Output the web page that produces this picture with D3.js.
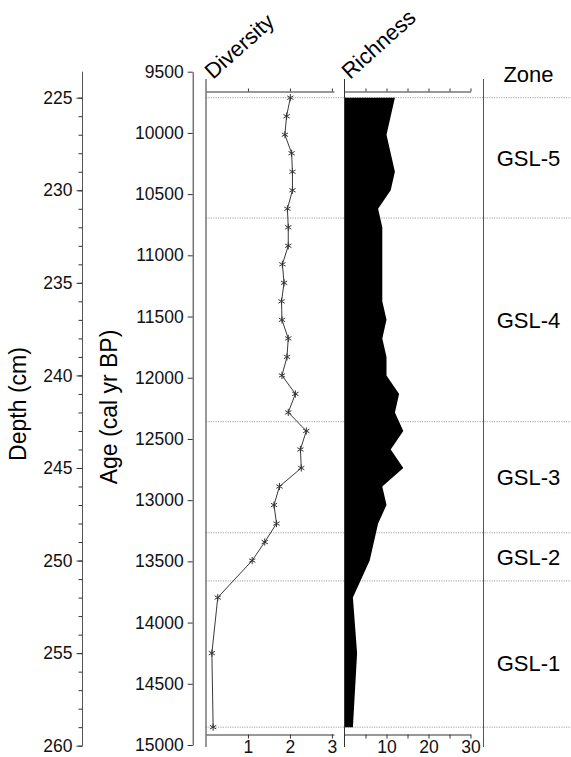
<!DOCTYPE html>
<html>
<head>
<meta charset="utf-8">
<script src="https://cdn.jsdelivr.net/npm/d3@7"></script>
<style>
  body { margin: 0; background: #fff; }
  svg { display: block; font-family: "Liberation Sans", Arial, sans-serif; }
  .axis path, .axis line { stroke: #333; }
  .axis text { font-family: "Liberation Sans", Arial, sans-serif; font-size: 17.5px; fill: #111; }
</style>
</head>
<body>
<svg></svg>
<script>
const width = 571;
const height = 757;
const svg = d3.select("svg")
    .attr("width", width)
    .attr("height", height);

// sample depths (cm)
const depths = [225, 226, 227, 228, 229, 230, 231, 232, 233, 234, 235, 236, 237, 238, 239,
                240, 241, 242, 243, 244, 245, 246, 247, 248, 249, 250, 252, 255, 259];
const diversity = [2.01, 1.92, 1.88, 2.04, 2.06, 2.06, 1.94, 1.96, 1.96, 1.82, 1.86, 1.80, 1.81, 1.96, 1.93,
                   1.81, 2.13, 1.96, 2.39, 2.25, 2.27, 1.75, 1.62, 1.68, 1.40, 1.10, 0.28, 0.14, 0.17];
const richness = [12, 11, 10, 11, 12, 11, 8, 9, 9, 9, 9, 9, 10, 9, 10,
                  10, 13, 12, 14, 11, 14, 9, 10, 8, 7, 6, 2, 3, 2];

const depthTicks = [225, 230, 235, 240, 245, 250, 255, 260];
const ageTicks = [9500, 10000, 10500, 11000, 11500, 12000, 12500, 13000, 13500, 14000, 14500, 15000];
const divTicks = [1, 2, 3];
const richTicks = [5, 10, 15, 20, 25, 30];

const zoneBounds = [225, 231.5, 242.5, 248.5, 251.1, 259];
const zoneNames = ["GSL-5", "GSL-4", "GSL-3", "GSL-2", "GSL-1"];

const samples = depths.map((d, i) => ({depth: d, div: diversity[i], rich: richness[i]}));

// scales
const yDepth = d3.scaleLinear().domain([225, 260]).range([97.7, 745.7]);
const yAge = d3.scaleLinear().domain([9500, 15000]).range([71.7, 745]);
const xDiv = d3.scaleLinear().domain([0, 3.05]).range([206, 334]);
const xRich = d3.scaleLinear().domain([0, 30]).range([344.5, 470.5]);

const panelTop = 79;
const panelBottom = 747;
const topAxisY = 91.5;
const bottomAxisY = 734.5;

//depth axis----------------------------------------//
const depthAxisX = 82.5;
svg.append("line")
    .attr("x1", depthAxisX).attr("x2", depthAxisX)
    .attr("y1", 71.7).attr("y2", yDepth(260))
    .attr("stroke", "#555");

svg.append("g")
    .attr("class", "axis")
    .attr("transform", `translate(${depthAxisX},0)`)
    .call(d3.axisLeft(yDepth).tickValues(d3.range(225, 261)).tickSize(4).tickFormat(""))
    .call(g => g.select(".domain").remove())
    .call(g => g.selectAll("line").attr("stroke", "#555"));

svg.append("g")
    .attr("class", "axis")
    .attr("transform", `translate(${depthAxisX},0)`)
    .call(d3.axisLeft(yDepth).tickValues(depthTicks).tickSize(6).tickPadding(4).tickFormat(d3.format("d")))
    .call(g => g.select(".domain").remove())
    .call(g => g.selectAll("line").attr("stroke", "#555"));

svg.append("text")
    .attr("transform", "translate(26,404) rotate(-90)")
    .attr("text-anchor", "middle")
    .attr("font-size", 23)
    .text("Depth (cm)");

//age axis----------------------------------------//
svg.append("g")
    .attr("class", "axis")
    .attr("transform", "translate(192.7,0)")
    .call(d3.axisLeft(yAge).tickValues(ageTicks).tickSize(5).tickSizeOuter(0).tickPadding(4)
        .tickFormat(d3.format("d")));

svg.append("text")
    .attr("transform", "translate(117,407) rotate(-90)")
    .attr("text-anchor", "middle")
    .attr("font-size", 23)
    .text("Age (cal yr BP)");

//zone lines (dotted)----------------------------------------//
svg.selectAll(".zoneline")
    .data(zoneBounds)
    .enter().append("line")
    .attr("class", "zoneline")
    .attr("x1", xDiv(0)).attr("x2", width)
    .attr("y1", d => yDepth(d)).attr("y2", d => yDepth(d))
    .attr("stroke", "#8a8a8a")
    .attr("stroke-width", 0.8)
    .attr("stroke-dasharray", "1.2,1.2");

//diversity panel----------------------------------------//
svg.append("line")
    .attr("x1", xDiv(0)).attr("x2", xDiv(0))
    .attr("y1", panelTop).attr("y2", panelBottom)
    .attr("stroke", "#333");

svg.append("g")
    .attr("class", "axis")
    .attr("transform", `translate(0,${topAxisY})`)
    .call(d3.axisTop(xDiv).tickValues(divTicks).tickSize(3).tickSizeOuter(0).tickFormat(""));

svg.append("g")
    .attr("class", "axis")
    .attr("transform", `translate(0,${bottomAxisY})`)
    .call(d3.axisBottom(xDiv).tickValues(divTicks).tickSize(4).tickSizeOuter(0).tickPadding(2)
        .tickFormat(d3.format("d")));

svg.append("path")
    .datum(samples)
    .attr("fill", "none")
    .attr("stroke", "#222")
    .attr("stroke-width", 0.9)
    .attr("d", d3.line().x(d => xDiv(d.div)).y(d => yDepth(d.depth)));

svg.selectAll(".marker")
    .data(samples)
    .enter().append("path")
    .attr("class", "marker")
    .attr("transform", d => `translate(${xDiv(d.div)},${yDepth(d.depth)})`)
    .attr("d", d3.symbol(d3.symbolAsterisk, 36))
    .attr("fill", "none")
    .attr("stroke", "#333")
    .attr("stroke-width", 1);

svg.append("text")
    .attr("transform", "translate(213,80) rotate(-42)")
    .attr("font-size", 22)
    .text("Diversity");

//richness panel----------------------------------------//
svg.append("path")
    .datum(samples)
    .attr("fill", "#000")
    .attr("d", d3.area()
        .x0(xRich(0))
        .x1(d => xRich(d.rich))
        .y(d => yDepth(d.depth)));

svg.append("line")
    .attr("x1", xRich(0)).attr("x2", xRich(0))
    .attr("y1", panelTop).attr("y2", panelBottom)
    .attr("stroke", "#333");

svg.append("g")
    .attr("class", "axis")
    .attr("transform", `translate(0,${topAxisY})`)
    .call(d3.axisTop(xRich).tickValues(richTicks).tickSize(3).tickSizeOuter(0).tickFormat(""));

svg.append("g")
    .attr("class", "axis")
    .attr("transform", `translate(0,${bottomAxisY})`)
    .call(d3.axisBottom(xRich).tickValues(richTicks).tickSize(4).tickSizeOuter(0).tickPadding(2)
        .tickFormat(d => d % 10 === 0 ? d : ""));

svg.append("text")
    .attr("transform", "translate(350,80) rotate(-42)")
    .attr("font-size", 22)
    .text("Richness");

//zones----------------------------------------//
svg.append("line")
    .attr("x1", 483.5).attr("x2", 483.5)
    .attr("y1", panelTop).attr("y2", panelBottom)
    .attr("stroke", "#555");

svg.append("text")
    .attr("x", 528.5).attr("y", 81.7)
    .attr("text-anchor", "middle")
    .attr("font-size", 22)
    .text("Zone");

svg.selectAll(".zonelabel")
    .data(zoneNames)
    .enter().append("text")
    .attr("class", "zonelabel")
    .attr("x", 528.5)
    .attr("y", (d, i) => {
        const bottom = i === zoneNames.length - 1 ? 260 : zoneBounds[i + 1];
        return yDepth((zoneBounds[i] + bottom) / 2);
    })
    .attr("dy", "0.36em")
    .attr("text-anchor", "middle")
    .attr("font-size", 22)
    .text(d => d);
</script>
</body>
</html>
